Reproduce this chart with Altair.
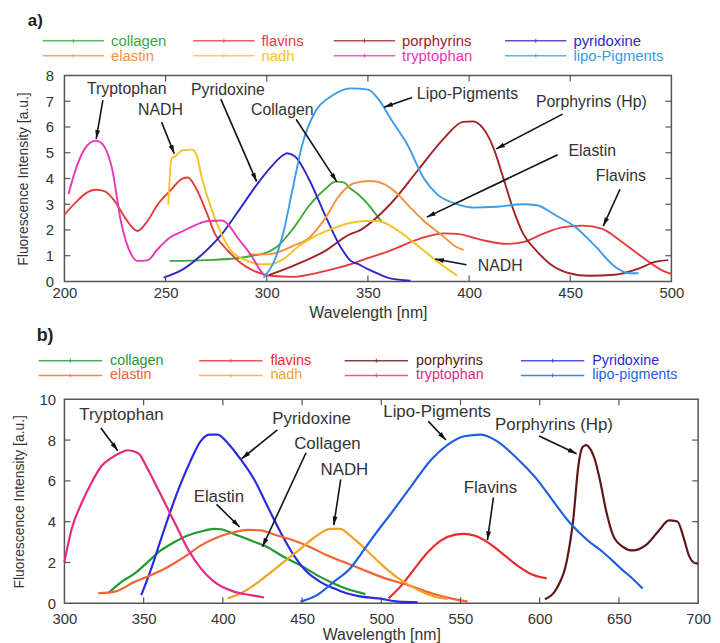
import math
import altair as alt
import pandas as pd

FONT = "Liberation Sans"
TXT = "#333333"
FRAME = "#555555"

# ======================= panel a) =======================
A_NAMES = ["collagen", "flavins", "porphyrins", "pyridoxine",
           "elastin", "nadh", "tryptophan", "lipo-Pigments"]
A_COLORS = ["#3aa83a", "#e33b3b", "#9e2226", "#2a2ac8",
            "#f4913f", "#f6c322", "#e438b4", "#3d9ae8"]

a_collagen_x = [252, 270, 285, 293, 300, 305, 313, 321, 329, 334, 338, 341.5, 345, 350, 355, 357]
a_collagen_y = [0.80, 0.83, 0.90, 1.0, 1.12, 1.35, 2.05, 2.95, 3.6, 3.88, 3.85, 3.6, 3.4, 3.0, 2.5, 2.3]

a_flavins_x = [200, 206, 210.7, 215.5, 220, 225, 230, 234.6, 236, 241, 246, 252, 258.5, 261, 265, 270,
               274.5, 281, 287, 293.6, 298.4, 301.6, 312.8, 328.7, 341.5, 345, 361, 378, 387.5, 394,
               407, 418.5, 426.7, 436.5, 446, 456, 465.8, 475.6, 485.4, 496.8, 500]
a_flavins_y = [2.6, 3.1, 3.43, 3.56, 3.5, 3.1, 2.47, 2.02, 1.96, 2.34, 2.98, 3.5, 4.0, 4.04, 3.63, 2.73,
               1.83, 1.18, 0.73, 0.41, 0.28, 0.22, 0.18, 0.4, 0.67, 0.77, 1.2, 1.72, 1.87, 1.85,
               1.6, 1.46, 1.53, 1.85, 2.1, 2.17, 2.04, 1.53, 0.96, 0.38, 0.3]

a_porphyrins_x = [301, 312.8, 328.7, 341.5, 345, 361, 374.5, 387.5, 397, 402, 407, 412, 417, 422,
                  426.7, 433, 439.7, 449.5, 459, 472, 483.8, 492, 498.4]
a_porphyrins_y = [0.25, 0.6, 1.18, 1.85, 1.95, 3.0, 4.3, 5.55, 6.2, 6.22, 5.94, 5.2, 4.0, 2.76,
                  1.86, 1.22, 0.7, 0.32, 0.22, 0.26, 0.5, 0.76, 0.83]

a_pyridoxine_x = [249, 258.5, 268, 277.7, 287, 295, 301.6, 308, 310, 314, 320.7, 328.7, 336.7, 341.5,
                  345, 350, 355, 361, 371]
a_pyridoxine_y = [0.15, 0.47, 1.05, 1.83, 2.85, 3.75, 4.4, 4.9, 4.98, 4.85, 4.0, 2.6, 1.31, 0.8,
                  0.68, 0.48, 0.3, 0.12, 0.03]

a_elastin_x = [291, 300, 305, 313, 321, 329, 335, 341.5, 345, 351.6, 358, 364.7, 371, 377.7, 385.9, 394, 397.3]
a_elastin_y = [1.05, 1.05, 1.12, 1.38, 1.7, 2.47, 3.24, 3.76, 3.85, 3.9, 3.78, 3.4, 2.87, 2.35, 1.84, 1.33, 1.23]

a_nadh_x = [251.3, 253, 254.5, 258.5, 263, 265, 268, 273, 277.7, 282.5, 288.8, 296.8, 301.6, 308, 316,
            324, 333.5, 341.5, 349, 355, 361.4, 369.6, 377.7, 385.9, 394]
a_nadh_y = [2.98, 4.8, 4.85, 5.1, 5.12, 4.98, 4.0, 2.73, 1.83, 1.18, 0.86, 0.67, 0.67, 0.86, 1.38,
            1.76, 2.08, 2.28, 2.35, 2.35, 2.15, 1.7, 1.19, 0.68, 0.23]

a_tryptophan_x = [202, 206, 210, 215.5, 218, 220, 223.5, 228, 233, 236, 241, 246, 252, 258.5, 265, 271,
                  278, 281, 285.6, 292, 298.4, 300]
a_tryptophan_y = [3.4, 4.45, 5.15, 5.47, 5.4, 5.2, 4.4, 2.3, 1.05, 0.8, 0.82, 1.25, 1.7, 1.95, 2.2, 2.35,
                  2.37, 2.2, 1.7, 1.05, 0.28, 0.2]

a_lipo_x = [298.4, 303, 308, 312.8, 317.5, 324, 332, 341.5, 350, 355, 361.4, 369.6, 377.7, 384, 394,
            402, 413.6, 426.7, 433, 443, 452.8, 462.6, 472, 479, 483.8]
a_lipo_y = [0.15, 0.67, 1.83, 3.6, 5.3, 6.6, 7.2, 7.5, 7.45, 7.1, 6.3, 5.3, 4.0, 3.4, 3.0,
            2.87, 2.9, 3.0, 2.97, 2.56, 2.1, 1.35, 0.58, 0.32, 0.32]

A_XS = [a_collagen_x, a_flavins_x, a_porphyrins_x, a_pyridoxine_x, a_elastin_x, a_nadh_x, a_tryptophan_x, a_lipo_x]
A_YS = [a_collagen_y, a_flavins_y, a_porphyrins_y, a_pyridoxine_y, a_elastin_y, a_nadh_y, a_tryptophan_y, a_lipo_y]

A_XTICKS = [200, 250, 300, 350, 400, 450, 500]
A_YTICKS = [0, 1, 2, 3, 4, 5, 6, 7, 8]

A_ANN_LABEL = ["Tryptophan", "NADH", "Pyridoxine", "Collagen", "Lipo-Pigments",
               "Porphyrins (Hp)", "Elastin", "Flavins", "NADH"]
A_ANN_TX = [230.8, 247.5, 280.8, 307.7, 399.2, 460.4, 460.9, 475.0, 415.4]
A_ANN_TY = [7.46, 6.65, 7.42, 6.65, 7.27, 6.96, 5.08, 4.08, 0.58]
A_ANN_X1 = [219.0, 248.0, 277.3, 314.5, 371.8, 446.2, 443.8, 474.6, 398.7]
A_ANN_Y1 = [7.04, 6.19, 7.08, 6.30, 7.15, 6.50, 4.92, 3.58, 0.65]
A_ANN_X2 = [215.7, 254.3, 295.0, 334.6, 358.0, 413.4, 379.1, 466.3, 383.2]
A_ANN_Y2 = [5.54, 4.96, 3.88, 3.88, 6.77, 5.15, 2.50, 2.15, 0.87]

# ======================= panel b) =======================
B_NAMES = ["collagen", "flavins", "porphyrins", "Pyridoxine",
           "elastin", "nadh", "tryptophan", "lipo-pigments"]
B_COLORS = ["#1f9a30", "#ea2a2a", "#5e1515", "#2a2ae4",
            "#f26430", "#eea526", "#e8287e", "#1f5fe0"]

b_collagen_x = [327.6, 336, 344.4, 352.7, 361, 369.5, 377.8, 386.2, 394.6, 398.7, 407, 417.6, 428, 438.5,
                449, 459.4, 470, 480.3, 486.6, 490]
b_collagen_y = [0.49, 1.05, 1.46, 2.03, 2.6, 3.0, 3.32, 3.52, 3.65, 3.63, 3.4, 3.08, 2.76, 2.27,
                1.86, 1.38, 0.97, 0.65, 0.52, 0.45]

b_flavins_x = [504.6, 512.9, 521, 529.5, 537.8, 546, 552.4, 558.6, 567, 575.3, 585.7, 596, 604.4]
b_flavins_y = [0.24, 0.89, 1.7, 2.51, 3.08, 3.35, 3.4, 3.32, 3.0, 2.51, 1.86, 1.38, 1.22]

b_porphyrins_x = [603.3, 610.8, 617, 621.2, 624.4, 627.2, 629.5, 631.4, 634.8, 637.9, 642.1, 646.3, 652.5,
                  658.8, 667, 675.4, 681.6, 686.9, 691, 694.1, 698.3, 700]
b_porphyrins_y = [0.2, 0.74, 2.04, 4.14, 6.73, 7.67, 7.75, 7.62, 7.05, 6.08, 4.47, 3.33, 2.77,
                  2.59, 2.85, 3.58, 4.06, 4.01, 3.17, 2.36, 1.96, 1.95]

b_pyridoxine_x = [348.5, 354.8, 361, 367.4, 373.6, 380, 386, 391.4, 396.7, 403, 411.3, 419.7, 428, 436.4,
                  444.8, 453, 461.5, 470, 478, 486.4, 498, 510.8, 523]
b_pyridoxine_y = [0.4, 1.7, 3.16, 4.62, 5.9, 7.05, 7.95, 8.27, 8.27, 7.86, 7.05, 6.08, 4.78, 3.48,
                  2.35, 1.54, 1.05, 0.73, 0.49, 0.34, 0.24, 0.08, 0.05]

b_elastin_x = [321.3, 331.8, 344.4, 354.8, 365.3, 375.7, 386.2, 396.7, 407, 415.5, 423.8, 434.3, 444.8,
               455, 465.7, 476, 486.6, 502.5, 517, 531.6, 544, 554.5]
b_elastin_y = [0.49, 0.57, 1.05, 1.38, 1.78, 2.27, 2.84, 3.24, 3.48, 3.6, 3.57, 3.32, 3.08,
               2.76, 2.35, 2.03, 1.7, 1.22, 0.89, 0.49, 0.24, 0.08]

b_nadh_x = [403, 411.3, 419.7, 428, 438.5, 449, 459.4, 467.8, 474, 480.3, 486.6, 498.3, 510.8, 523.3, 535.8, 542]
b_nadh_y = [0.24, 0.49, 0.89, 1.38, 2.03, 2.67, 3.32, 3.65, 3.65, 3.32, 2.9, 2.03, 1.22, 0.65, 0.28, 0.21]

b_tryptophan_x = [300, 304.6, 311, 317, 323.4, 329.7, 335, 340, 346.4, 352.7, 359, 365.3, 371.5, 377.8,
                  386.2, 394.6, 407, 417.6, 426]
b_tryptophan_y = [2.03, 3.65, 4.94, 5.9, 6.73, 7.13, 7.37, 7.5, 7.37, 6.56, 5.6, 4.62, 3.65, 2.67,
                  1.7, 1.05, 0.57, 0.4, 0.28]

b_lipo_x = [449, 459.4, 470, 480.3, 486.6, 494, 506.7, 519, 531.6, 542, 552.4, 562.8, 573, 585.7, 598,
            610, 619, 630, 640, 652, 658, 665]
b_lipo_y = [0.08, 0.4, 1.05, 1.7, 2.35, 3.16, 4.46, 5.75, 7.05, 7.78, 8.19, 8.27, 7.95, 7.1, 6.1,
            4.85, 3.95, 3.1, 2.5, 1.65, 1.25, 0.72]

B_XS = [b_collagen_x, b_flavins_x, b_porphyrins_x, b_pyridoxine_x, b_elastin_x, b_nadh_x, b_tryptophan_x, b_lipo_x]
B_YS = [b_collagen_y, b_flavins_y, b_porphyrins_y, b_pyridoxine_y, b_elastin_y, b_nadh_y, b_tryptophan_y, b_lipo_y]

B_XTICKS = [300, 350, 400, 450, 500, 550, 600, 650, 700]
B_YTICKS = [0, 2, 4, 6, 8, 10]

B_ANN_LABEL = ["Tryptophan", "Pyridoxine", "Collagen", "NADH", "Elastin",
               "Lipo-Pigments", "Porphyrins (Hp)", "Flavins"]
B_ANN_TX = [336.0, 456.0, 466.0, 476.7, 397.5, 535.2, 609.0, 568.9]
B_ANN_TY = [9.22, 9.03, 7.82, 6.55, 5.19, 9.37, 8.74, 5.63]
B_ANN_X1 = [323.0, 434.4, 452.5, 474.4, 396.0, 529.6, 599.6, 570.8]
B_ANN_Y1 = [8.59, 8.50, 7.38, 6.07, 4.85, 8.93, 8.20, 5.19]
B_ANN_X2 = [333.7, 411.9, 425.0, 470.0, 410.6, 540.8, 623.3, 567.0]
B_ANN_Y2 = [7.48, 7.09, 2.77, 3.83, 3.74, 8.00, 7.33, 3.10]

# arrow head: tip at the symbol origin, pointing up before rotation
HEAD = "M0,0L0.5,1.8L-0.5,1.8Z"


def make_panel(names, xs_list, ys_list, colors, xdom, ydom, xticks, yticks, W, H, ann, sty):
    rows = []
    for k, (n, c, xv, yv) in enumerate(zip(names, colors, xs_list, ys_list)):
        for a, b in zip(xv, yv):
            rows.append({"series": n, "color": c, "k": k, "wl": a, "val": b})
    df = pd.DataFrame(rows)

    xscale = alt.Scale(domain=xdom, nice=False, zero=False)
    yscale = alt.Scale(domain=ydom, nice=False, zero=False)
    xaxis = alt.Axis(values=xticks, title="Wavelength [nm]", labelFontSize=sty["tick_fs"],
                     titleFontSize=sty["xt_fs"], labelPadding=sty["xlp"], titlePadding=sty["xtp"],
                     labelFlush=False)
    yaxis = alt.Axis(values=yticks, title="Fluorescence Intensity [a.u.]", labelFontSize=sty["tick_fs"],
                     titleFontSize=sty["yt_fs"], labelPadding=sty["ylp"], titlePadding=sty["ytp"],
                     labelFlush=False)

    def X(f):
        return alt.X(f, type="quantitative", scale=xscale, axis=xaxis)

    def Y(f):
        return alt.Y(f, type="quantitative", scale=yscale, axis=yaxis)

    lines = alt.Chart(df).mark_line(strokeWidth=sty["sw"], interpolate="monotone").encode(
        x=X("wl"), y=Y("val"),
        color=alt.Color("color:N", scale=None),
        detail="series:N",
    )

    xt = pd.DataFrame({"t": xticks[1:-1]})
    yt = pd.DataFrame({"v": yticks[1:-1]})
    tk = 6
    t_bot = alt.Chart(xt).mark_rule(color=FRAME, strokeWidth=1.2).encode(
        x=X("t"), y=alt.value(H), y2=alt.value(H - tk))
    t_top = alt.Chart(xt).mark_rule(color=FRAME, strokeWidth=1.2).encode(
        x=X("t"), y=alt.value(0), y2=alt.value(tk))
    t_left = alt.Chart(yt).mark_rule(color=FRAME, strokeWidth=1.2).encode(
        y=Y("v"), x=alt.value(0), x2=alt.value(tk))
    t_right = alt.Chart(yt).mark_rule(color=FRAME, strokeWidth=1.2).encode(
        y=Y("v"), x=alt.value(W), x2=alt.value(W - tk))

    sx = W / (xdom[1] - xdom[0])
    sy = H / (ydom[1] - ydom[0])
    lab, tx, ty, x1, y1, x2, y2 = ann
    angs = []
    for a1, b1, a2, b2 in zip(x1, y1, x2, y2):
        dxp = (a2 - a1) * sx
        dyp = -(b2 - b1) * sy
        angs.append(math.degrees(math.atan2(dxp, -dyp)) % 360)
    adf = pd.DataFrame({"label": lab, "tx": tx, "ty": ty, "x1": x1, "y1": y1,
                        "x2": x2, "y2": y2, "ang": angs})

    arrows = alt.Chart(adf).mark_rule(color="#111111", strokeWidth=1.6).encode(
        x=X("x1"), y=Y("y1"), x2="x2:Q", y2="y2:Q")
    heads = alt.Chart(adf).mark_point(shape=HEAD, filled=True, size=95, color="#111111",
                                      opacity=1, strokeWidth=0).encode(
        x=X("x2"), y=Y("y2"), angle=alt.Angle("ang:Q", scale=None))
    texts = alt.Chart(adf).mark_text(font=FONT, fontSize=sty["ann_fs"], color=TXT,
                                     align="center", baseline="middle").encode(
        x=X("tx"), y=Y("ty"), text="label:N")

    return alt.layer(lines, t_bot, t_top, t_left, t_right, arrows, heads, texts).properties(
        width=W, height=H)


def make_legend(names, colors, col_starts, rows_y, line_len, text_off, fs, tag, tag_x, tag_y,
                tag_fs, W, Hleg):
    rows = []
    for i, (n, c) in enumerate(zip(names, colors)):
        col = i % 4
        r = i // 4
        x0 = col_starts[col]
        rows.append({"label": n, "color": c, "lx1": x0, "lx2": x0 + line_len,
                     "lm": x0 + line_len / 2, "tx": x0 + text_off, "ly": rows_y[r],
                     "lt": rows_y[r] - 2, "lb": rows_y[r] + 2})
    df = pd.DataFrame(rows)
    ln = alt.Chart(df).mark_rule(strokeWidth=1.5, opacity=0.8).encode(
        x=alt.X("lx1:Q", scale=None, axis=None), x2="lx2:Q",
        y=alt.Y("ly:Q", scale=None, axis=None),
        color=alt.Color("color:N", scale=None))
    mk = alt.Chart(df).mark_rule(strokeWidth=1, opacity=0.8).encode(
        x=alt.X("lm:Q", scale=None, axis=None),
        y=alt.Y("lt:Q", scale=None, axis=None), y2="lb:Q",
        color=alt.Color("color:N", scale=None))
    tx = alt.Chart(df).mark_text(font=FONT, fontSize=fs, align="left", baseline="middle").encode(
        x=alt.X("tx:Q", scale=None, axis=None),
        y=alt.Y("ly:Q", scale=None, axis=None),
        text="label:N", color=alt.Color("color:N", scale=None))
    tg = alt.Chart(pd.DataFrame({"t": [tag]})).mark_text(
        font=FONT, fontSize=tag_fs, fontWeight="bold", align="left", baseline="middle",
        color="#222222").encode(x=alt.value(tag_x), y=alt.value(tag_y), text="t:N")
    return alt.layer(ln, mk, tx, tg).properties(
        width=W, height=Hleg, view=alt.ViewBackground(stroke="transparent"))


WA, HA = 613, 208
WB, HB = 640, 206

sty_a = {"tick_fs": 15, "xt_fs": 16, "yt_fs": 14, "ann_fs": 16, "sw": 1.9,
         "xlp": 4, "xtp": 4, "ylp": 11, "ytp": 15}
sty_b = {"tick_fs": 15, "xt_fs": 16, "yt_fs": 14, "ann_fs": 17, "sw": 2.2,
         "xlp": 8, "xtp": 1, "ylp": 9, "ytp": 13}

panel_a = make_panel(A_NAMES, A_XS, A_YS, A_COLORS, [200, 500], [0, 8], A_XTICKS, A_YTICKS, WA, HA,
                     (A_ANN_LABEL, A_ANN_TX, A_ANN_TY, A_ANN_X1, A_ANN_Y1, A_ANN_X2, A_ANN_Y2), sty_a)
panel_b = make_panel(B_NAMES, B_XS, B_YS, B_COLORS, [300, 700], [0, 10], B_XTICKS, B_YTICKS, WB, HB,
                     (B_ANN_LABEL, B_ANN_TX, B_ANN_TY, B_ANN_X1, B_ANN_Y1, B_ANN_X2, B_ANN_Y2), sty_b)

legend_a = make_legend(A_NAMES, A_COLORS, [-22, 130, 272, 445], [27, 42], 62, 69, 15,
                       "a)", -37, 7, 17, WA, 62)
legend_b = make_legend(B_NAMES, B_COLORS, [-26, 136, 283, 461], [80, 95], 64, 72, 14.5,
                       "b)", -28, 55, 18, WB, 119)

chart = alt.vconcat(legend_a, panel_a, legend_b, panel_b, spacing=0, bounds="flush").properties(
    padding={"left": 3, "top": 0, "right": 0, "bottom": 0}
).configure(font=FONT).configure_view(stroke=FRAME, strokeWidth=1.5).configure_axis(
    grid=False, domain=False, ticks=False, tickSize=0, labelColor=TXT, titleColor=TXT,
    labelFont=FONT, titleFont=FONT, titleFontWeight="normal")

chart.save("out.html", embed_options={"renderer": "svg", "actions": False})
